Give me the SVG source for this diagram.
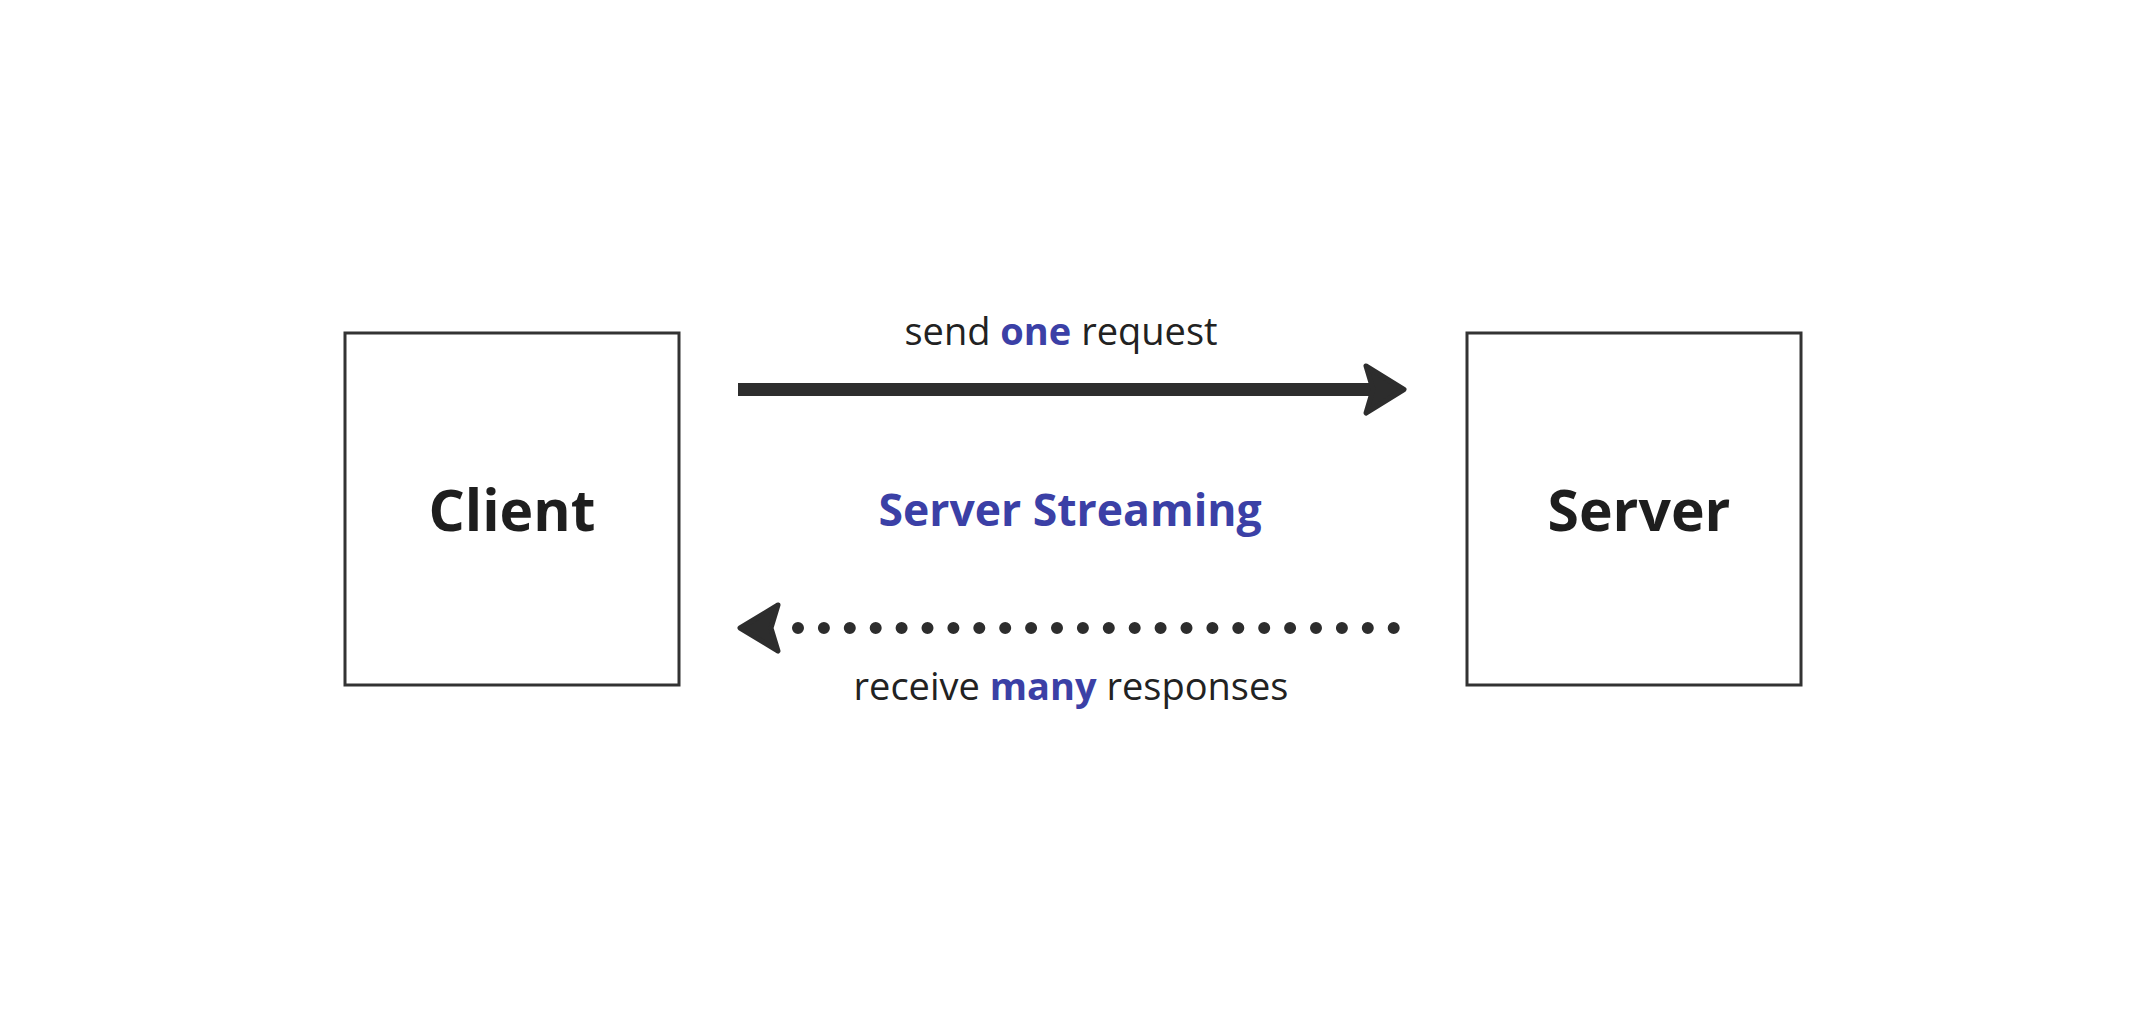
<svg xmlns="http://www.w3.org/2000/svg" width="2142" height="1036" viewBox="0 0 2142 1036">
<style>
.box{fill:#fff;stroke:#333;stroke-width:3}
.node{font-family:"Open Sans","Noto Sans","Liberation Sans",sans-serif;font-weight:700;font-size:57px;fill:#1e1e1e;text-anchor:middle}
.lbl{font-family:"Open Sans","Noto Sans","Liberation Sans",sans-serif;font-size:38px;fill:#222;text-anchor:middle}
.hl{font-weight:700;fill:#3b40a6}
.title{font-family:"Open Sans","Noto Sans","Liberation Sans",sans-serif;font-weight:700;font-size:44.5px;fill:#3b40a6;text-anchor:middle}
.head{fill:#2d2d2d;stroke:#2d2d2d;stroke-width:5;stroke-linejoin:round}
</style>
<rect width="2142" height="1036" fill="#fff"/>
<g id="client">
<rect class="box" x="345" y="333" width="334" height="352"/>
<text class="node" x="512" y="531">Client</text>
</g>
<g id="server">
<rect class="box" x="1467" y="333" width="334" height="352"/>
<text class="node" x="1639" y="531">Server</text>
</g>
<g id="connectors">
<line x1="738" y1="389.5" x2="1385" y2="389.5" stroke="#2d2d2d" stroke-width="13"/>
<path class="head" d="M1366,366 L1404,389.5 L1366,413 L1373,389.5 Z"/>
<line x1="798" y1="628" x2="1394" y2="628" stroke="#2d2d2d" stroke-width="12" stroke-linecap="round" stroke-dasharray="0 25.9"/>
<path class="head" d="M778,605 L740,628 L778,651 L771,628 Z"/>
</g>
<g id="labels">
<text class="lbl" x="1061" y="345">send <tspan class="hl">one</tspan> request</text>
<text class="title" x="1070" y="526">Server Streaming</text>
<text class="lbl" x="1071" y="700">receive <tspan class="hl">many</tspan> responses</text>
</g>
</svg>
